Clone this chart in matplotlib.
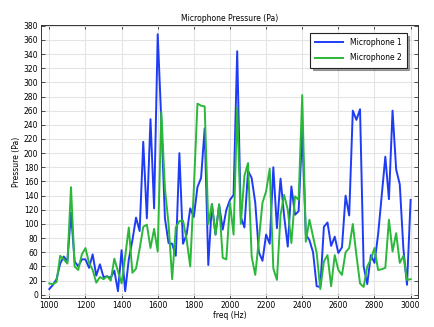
import numpy as np
import matplotlib
matplotlib.use("Agg")
import matplotlib.pyplot as plt

freq = np.arange(1000, 3001, 20)

mic1 = [8, 14, 22, 44, 54, 47, 116, 47, 40, 50, 50,
        38, 57, 27, 43, 25, 26, 24, 34, 5, 63, 5,
        50, 77, 109, 90, 216, 108, 248, 122,
        368, 245, 108, 73, 72, 55, 200, 72, 85, 122,
        110, 152, 165, 235, 42, 128, 85, 127, 92, 120,
        134, 141, 344, 110, 95, 175, 165, 130, 60, 48,
        85, 72, 180, 94, 164, 111, 68, 153, 113, 118,
        232, 85, 77, 60, 12, 11, 96, 102, 69, 82,
        59, 67, 140, 112, 260, 247, 262, 40, 15, 56,
        45, 85, 140, 195, 135, 260, 177, 156, 65, 14, 134]

mic2 = [16, 15, 18, 55, 50, 44, 152, 40, 35, 57, 66,
        45, 35, 17, 25, 22, 26, 20, 51, 33, 16, 54,
        95, 31, 37, 65, 96, 99, 66, 93,
        61, 258, 150, 100, 22, 95, 104, 105, 78, 40,
        150, 270, 267, 266, 100, 128, 85, 128, 52, 50,
        130, 85, 265, 100, 168, 186, 54, 28, 78, 130,
        146, 178, 37, 21, 113, 141, 120, 73, 139, 134,
        282, 75, 106, 82, 59, 8, 47, 56, 12, 56,
        35, 28, 60, 66, 100, 56, 16, 11, 40, 50,
        66, 35, 36, 38, 106, 61, 87, 45, 55, 21, 22]

labels = ["Microphone 1", "Microphone 2"]
title = "Microphone Pressure (Pa)"
xlabel = "freq (Hz)"
ylabel = "Pressure (Pa)"

fig = plt.figure(figsize=(4.34, 3.27), dpi=100)
ax = fig.add_axes([0.0945, 0.0878, 0.8695, 0.8357])

ax.plot(freq, mic1, color="#1f3cf5", lw=1.4, label=labels[0])
ax.plot(freq, mic2, color="#2bb83a", lw=1.4, label=labels[1])

ax.set_xlim(954, 3043)
ax.set_ylim(-5, 381)
ax.set_xticks(np.arange(1000, 3001, 200))
ax.set_yticks(np.arange(0, 381, 20))
ax.grid(True, color="#e4e4e4", lw=0.8)
ax.set_axisbelow(True)
ax.tick_params(direction="in", length=3, width=0.6, labelsize=5.5,
               top=True, right=True, pad=2, color="#333333")
for s in ax.spines.values():
    s.set_linewidth(0.7)
    s.set_color("#333333")

ax.set_title(title, fontsize=5.5, pad=3)
ax.set_xlabel(xlabel, fontsize=5.5, labelpad=1)
ax.set_ylabel(ylabel, fontsize=5.5, labelpad=2)

leg = ax.legend(loc="upper right", bbox_to_anchor=(0.975, 0.98), fontsize=5.5,
                frameon=True, fancybox=False, shadow=True, borderpad=0.7,
                handlelength=3.6, labelspacing=0.8, handletextpad=0.9,
                borderaxespad=0.3)
leg.get_frame().set_edgecolor("#222222")
leg.get_frame().set_linewidth(0.8)

fig.savefig("out.png", dpi=100)
